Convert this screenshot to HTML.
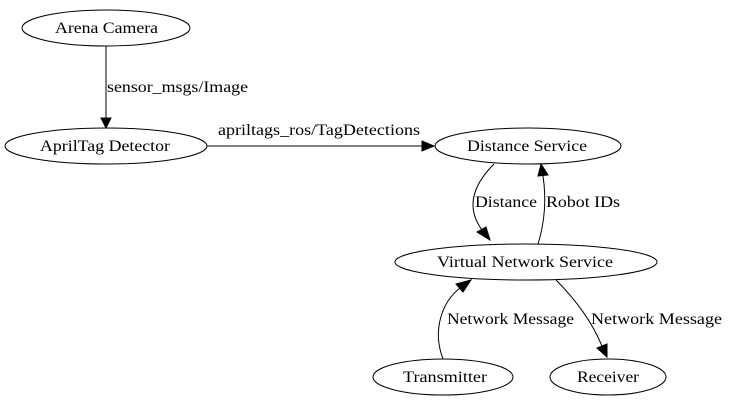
<!DOCTYPE html>
<html><head><meta charset="utf-8"><style>
html,body{margin:0;padding:0;background:#fff;}
svg{display:block;}
text{font-family:"Liberation Serif",serif;font-size:16px;fill:#000;}
</style></head><body>
<svg width="729" height="407" viewBox="0 0 729 407" xmlns="http://www.w3.org/2000/svg">
<g fill="none" stroke="#000" stroke-width="1">
<ellipse cx="106" cy="28" rx="84" ry="18"/>
<ellipse cx="106" cy="146" rx="101" ry="18"/>
<ellipse cx="528" cy="146" rx="93" ry="18"/>
<ellipse cx="526" cy="262" rx="131" ry="18"/>
<ellipse cx="443" cy="377" rx="70" ry="18"/>
<ellipse cx="608" cy="377" rx="58" ry="18"/>
<path d="M106,46 L106,118"/>
<path d="M207,146 L422,146"/>
<path d="M494,164 C472,186 466,208 482,230"/>
<path d="M538,244 C546,218 546,196 543,176"/>
<path d="M443,359 C432,330 442,302 460,288"/>
<path d="M556,280 C576,300 592,322 602,346"/>
</g>
<g fill="#000" stroke="#000">
<polygon points="101,118 111,118 106,128"/>
<polygon points="422,141 422,151 434,146"/>
<polygon points="477,232 486,227 490,240"/>
<polygon points="538,176 548,175 541,164"/>
<polygon points="456,284 463,292 471,280"/>
<polygon points="597,348 607,344 607,357"/>
</g>
<text x="55" y="33" textLength="103" lengthAdjust="spacingAndGlyphs">Arena Camera</text>
<text x="40" y="151" textLength="130" lengthAdjust="spacingAndGlyphs">AprilTag Detector</text>
<text x="467" y="151" textLength="120" lengthAdjust="spacingAndGlyphs">Distance Service</text>
<text x="437" y="267" textLength="176" lengthAdjust="spacingAndGlyphs">Virtual Network Service</text>
<text x="403" y="382" textLength="84" lengthAdjust="spacingAndGlyphs">Transmitter</text>
<text x="577" y="382" textLength="62" lengthAdjust="spacingAndGlyphs">Receiver</text>
<text x="107" y="92" textLength="141" lengthAdjust="spacingAndGlyphs">sensor_msgs/Image</text>
<text x="218" y="135" textLength="202" lengthAdjust="spacingAndGlyphs">apriltags_ros/TagDetections</text>
<text x="475" y="207" textLength="62" lengthAdjust="spacingAndGlyphs">Distance</text>
<text x="546" y="207" textLength="74" lengthAdjust="spacingAndGlyphs">Robot IDs</text>
<text x="447" y="324" textLength="127" lengthAdjust="spacingAndGlyphs">Network Message</text>
<text x="591" y="324" textLength="131" lengthAdjust="spacingAndGlyphs">Network Message</text>
</svg>
</body></html>
